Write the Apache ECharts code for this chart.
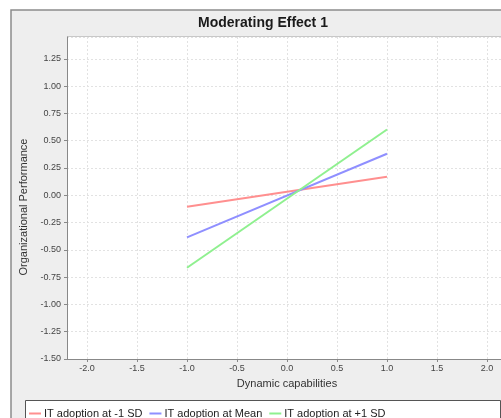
<!DOCTYPE html>
<html>
<head>
<meta charset="utf-8">
<script src="https://cdn.jsdelivr.net/npm/echarts@6/dist/echarts.min.js"></script>
<style>html,body{margin:0;padding:0;background:#fff}#c{width:501px;height:418px}</style>
</head>
<body>
<div id="c"></div>
<script>
const titleText = 'Moderating Effect 1';
const xName = 'Dynamic capabilities';
const yName = 'Organizational Performance';
const xValues = [-1, 1];
const seriesNames = ['IT adoption at -1 SD', 'IT adoption at Mean', 'IT adoption at +1 SD'];
const lowSD = [-0.105, 0.169];
const atMean = [-0.386, 0.380];
const highSD = [-0.664, 0.603];
const xTicks = [-2.0, -1.5, -1.0, -0.5, 0.0, 0.5, 1.0, 1.5, 2.0];
const colors = ['#ff8f8f', '#8f8fff', '#8ff08f'];

const font = 'Liberation Sans, Arial, sans-serif';
const chart = echarts.init(document.getElementById('c'));
const toPairs = v => xValues.map((x, i) => [x, v[i]]);

chart.setOption({
  animation: false,
  backgroundColor: '#fff',
  textStyle: { fontFamily: font },
  graphic: [
    { type: 'rect', z: -10, shape: { x: 11, y: 10, width: 520, height: 430 },
      style: { fill: '#eeeeee', stroke: '#8c8c8c', lineWidth: 1.5 } },
    { type: 'rect', z: -5, shape: { x: 25.5, y: 400.5, width: 475, height: 40 },
      style: { fill: '#ffffff', stroke: '#555555', lineWidth: 1 } },
    { type: 'line', z: -5, shape: { x1: 67, y1: 36.5, x2: 520, y2: 36.5 },
      style: { stroke: '#c8c8c8', lineWidth: 1 } },
    { type: 'text', z: 10, x: 263, y: 23,
      style: { text: titleText, font: 'bold 14px ' + font, fill: '#1a1a1a',
               textAlign: 'center', textVerticalAlign: 'middle' } }
  ],
  grid: { left: 67, top: 37, width: 440, height: 322, show: true, outerBoundsMode: 'none',
          containLabel: false,
          backgroundColor: '#ffffff', borderWidth: 0 },
  legend: {
    left: 24, top: 403, itemWidth: 12, itemHeight: 2, itemGap: 7, icon: 'rect',
    textStyle: { fontSize: 11, color: '#222', fontFamily: font, padding: [0, 0, 0, -2] },
    data: seriesNames
  },
  xAxis: {
    type: 'value', min: -2.2, max: 2.2,
    name: xName, nameLocation: 'middle', nameGap: 19,
    nameTextStyle: { fontSize: 11, color: '#333' },
    axisLine: { onZero: false, lineStyle: { color: '#888' } },
    axisTick: { show: true, length: 3, lineStyle: { color: '#888' }, customValues: xTicks },
    axisLabel: { fontSize: 9, color: '#444', margin: 5, customValues: xTicks,
                 formatter: v => v.toFixed(1) },
    splitLine: { show: true, lineStyle: { color: '#e2e2e2', type: [2, 2] } }
  },
  yAxis: {
    type: 'value', min: -1.5, max: 1.45, interval: 0.25,
    name: yName, nameLocation: 'middle', nameGap: 33, nameRotate: 90,
    nameTextStyle: { fontSize: 11, color: '#333', padding: [0, 18, 0, 0] },
    axisLine: { show: true, onZero: false, lineStyle: { color: '#888' } },
    axisTick: { show: true, length: 3, lineStyle: { color: '#888' } },
    axisLabel: { fontSize: 9, color: '#444', margin: 6, showMaxLabel: false,
                 formatter: v => v.toFixed(2) },
    splitLine: { show: true, lineStyle: { color: '#e2e2e2', type: [2, 2] } }
  },
  series: [
    { name: seriesNames[0], type: 'line', data: toPairs(lowSD), showSymbol: false,
      color: colors[0], lineStyle: { width: 2 } },
    { name: seriesNames[1], type: 'line', data: toPairs(atMean), showSymbol: false,
      color: colors[1], lineStyle: { width: 2 } },
    { name: seriesNames[2], type: 'line', data: toPairs(highSD), showSymbol: false,
      color: colors[2], lineStyle: { width: 2 } }
  ]
});
</script>
</body>
</html>
